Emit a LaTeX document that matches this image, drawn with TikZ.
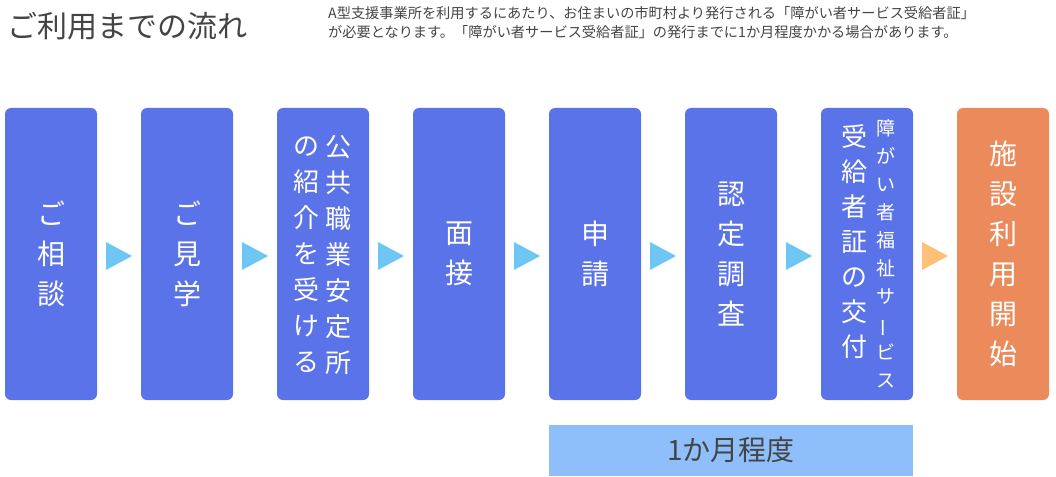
\documentclass[tikz,border=0pt]{standalone}
\usepackage{fontspec}
\newfontfamily\jp{Noto Sans CJK JP}
\usetikzlibrary{positioning}
\definecolor{bx}{HTML}{5B73E8}
\definecolor{ob}{HTML}{EB8A5A}
\definecolor{tri}{HTML}{6EC6F5}
\definecolor{otri}{HTML}{FFC07A}
\definecolor{bar}{HTML}{8FBFFA}
\definecolor{tx}{HTML}{444444}
\newcommand{\vb}{\rotatebox[origin=c]{90}{ー}}
\tikzset{
 stepbox/.style={fill=bx,rounded corners=6pt,minimum width=92pt,minimum height=292pt,inner sep=0pt},
 vtxt/.style={text=white,align=center,font=\jp\fontsize{28}{40}\selectfont},
 arr/.style={fill=tri,draw=none},
}
\begin{document}
\begin{tikzpicture}[x=1pt,y=-1pt]
\useasboundingbox (0,0) rectangle (1056,476);
\node[anchor=west,text=tx,font=\jp\fontsize{30}{32}\selectfont,inner sep=0pt] (title) at (7,26) {ご利用までの流れ};
\node[anchor=north west,text=tx,align=left,inner sep=0pt,font=\jp\fontsize{14.2}{19}\selectfont] (hdr) at (328,6) {A型支援事業所を利用するにあたり、お住まいの市町村より発行される「障がい者サービス受給者証」\\が必要となります。「障がい者サービス受給者証」の発行までに1か月程度かかる場合があります。};
\foreach \i in {0,...,6}{
  \node[stepbox] (b\i) at (51+136*\i,254) {};
}
\node[stepbox,fill=ob] (b7) at (1003,254) {};
\foreach \i in {0,...,5}{
  \fill[tri] (106+136*\i,242) -- (132+136*\i,256) -- (106+136*\i,270) -- cycle;
}
\fill[otri] (922,242) -- (948,256) -- (922,270) -- cycle;
\node[vtxt] at (b0) {ご\\相\\談};
\node[vtxt] at (b1) {ご\\見\\学};
\node[vtxt,font=\jp\fontsize{26}{36}\selectfont] at ([xshift=15pt,yshift=-1pt]b2.center) {公\\共\\職\\業\\安\\定\\所};
\node[vtxt,font=\jp\fontsize{26}{36}\selectfont] at ([xshift=-17pt,yshift=-1pt]b2.center) {の\\紹\\介\\を\\受\\け\\る};
\node[vtxt] at (b3) {面\\接};
\node[vtxt] at (b4) {申\\請};
\node[vtxt] at (b5) {認\\定\\調\\査};
\node[vtxt,font=\jp\fontsize{19}{28}\selectfont] at ([xshift=19pt]b6.center) {障\\が\\い\\者\\福\\祉\\サ\\\vb\\ビ\\ス};
\node[vtxt,font=\jp\fontsize{26}{35}\selectfont] at ([xshift=-13pt,yshift=12pt]b6.center) {受\\給\\者\\証\\の\\交\\付};
\node[vtxt] at (b7) {施\\設\\利\\用\\開\\始};
\fill[bar] (549,425) rectangle (913,476);
\node[text=tx,font=\jp\fontsize{28}{30}\selectfont] (dur) at (731,450) {1か月程度};
\end{tikzpicture}
\end{document}
